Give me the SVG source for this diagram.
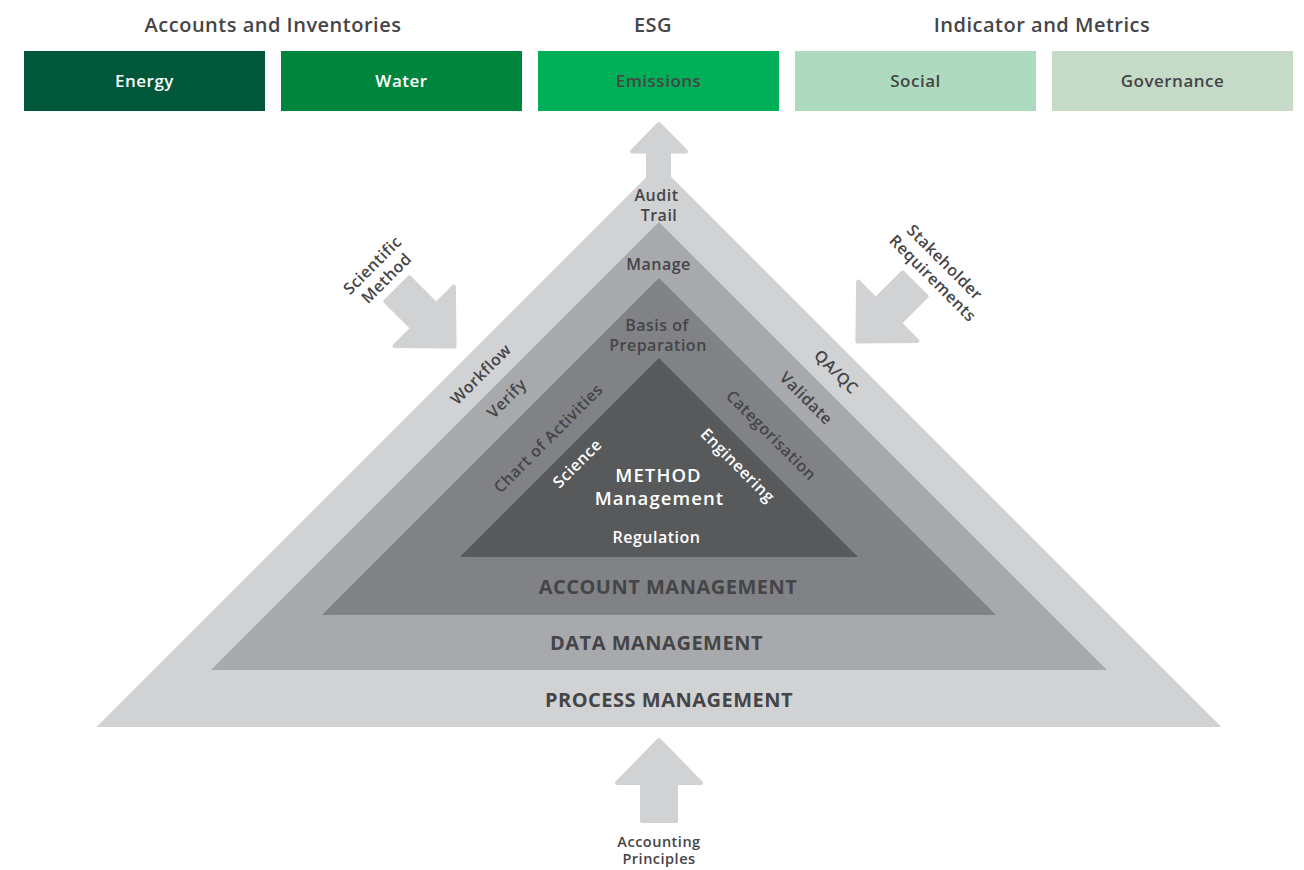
<svg xmlns="http://www.w3.org/2000/svg" width="1304" height="870" viewBox="0 0 1304 870">
<style>
text{font-family:"Open Sans","Noto Sans","Liberation Sans",sans-serif;font-weight:600;text-anchor:middle;letter-spacing:0.5px}
.d{fill:#454547}
.w{fill:#ffffff}
.h{font-size:20px}
.b{font-size:17px}
.l{font-size:16px}
.c{dominant-baseline:central}
.big{font-size:20px;font-weight:700}
.arrow{fill:#d1d2d4;stroke:#d1d2d4;stroke-width:4;stroke-linejoin:round}
</style>
<defs>
<path id="arr" d="M0,2 L42,45 L17,45 L17,83 L-17,83 L-17,45 L-42,45 Z"/>
</defs>
<rect width="1304" height="870" fill="#ffffff"/>

<g id="header-titles">
<text class="d h" x="273" y="31.5">Accounts and Inventories</text>
<text class="d h" x="653" y="31.5">ESG</text>
<text class="d h" x="1042" y="31.5">Indicator and Metrics</text>
</g>

<g id="box-energy"><rect x="24" y="51" width="241" height="60" fill="#00573a"/><text class="w b" x="144.5" y="87">Energy</text></g>
<g id="box-water"><rect x="281" y="51" width="241" height="60" fill="#00853e"/><text class="w b" x="401.5" y="87">Water</text></g>
<g id="box-emissions"><rect x="538" y="51" width="241" height="60" fill="#00b058"/><text class="d b" x="658.5" y="87">Emissions</text></g>
<g id="box-social"><rect x="795" y="51" width="241" height="60" fill="#aedabf"/><text class="d b" x="915.5" y="87">Social</text></g>
<g id="box-governance"><rect x="1052" y="51" width="241" height="60" fill="#c6dac8"/><text class="d b" x="1172.5" y="87">Governance</text></g>

<g id="connectors">
<path class="arrow" d="M659,124 L686,151.5 L669,151.5 L669,200 L648,200 L648,151.5 L632,151.5 Z"/>
<use href="#arr" class="arrow" transform="translate(456,348) rotate(135)"/>
<use href="#arr" class="arrow" transform="translate(856,343) rotate(-135)"/>
<use href="#arr" class="arrow" transform="translate(659,738)"/>
</g>

<g id="layer-process">
<polygon points="96.5,727 1221.5,727 659,164.5" fill="#d1d2d4"/>
<text class="d big" x="669" y="706.5">PROCESS MANAGEMENT</text>
<text class="d l" x="656.5" y="200.5">Audit</text>
<text class="d l" x="659" y="220.5">Trail</text>
<text class="d l c" transform="translate(480.5,374) rotate(-45)">Workflow</text>
<text class="d l c" transform="translate(836.5,371.5) rotate(45)">QA/QC</text>
</g>

<g id="layer-data">
<polygon points="211,670 1107,670 659,222" fill="#a7a9ac"/>
<text class="d big" x="656.5" y="649.5">DATA MANAGEMENT</text>
<text class="d l" x="658.5" y="269.5">Manage</text>
<text class="d l c" transform="translate(506.5,398) rotate(-45)">Verify</text>
<text class="d l c" transform="translate(806.5,398) rotate(45)">Validate</text>
</g>

<g id="layer-account">
<polygon points="322,615 996,615 659,278" fill="#808285"/>
<text class="d big" x="668" y="594">ACCOUNT MANAGEMENT</text>
<text class="d l" x="657" y="331">Basis of</text>
<text class="d l" x="658" y="351">Preparation</text>
<text class="d l c" transform="translate(548,438) rotate(-45)">Chart of Activities</text>
<text class="d l c" transform="translate(771.5,435) rotate(45)">Categorisation</text>
</g>

<g id="layer-method">
<polygon points="460,557 858,557 659,358" fill="#58595b"/>
<text class="w" style="font-size:18.5px;letter-spacing:1.1px" x="658.5" y="482">METHOD</text>
<text class="w" style="font-size:18.5px;letter-spacing:1.1px" x="659.5" y="505">Management</text>
<text class="w l" x="656.5" y="543">Regulation</text>
<text class="w l c" transform="translate(577,463) rotate(-45)">Science</text>
<text class="w l c" transform="translate(738,465) rotate(45)">Engineering</text>
</g>

<g id="label-scientific-method">
<text class="d l c" transform="translate(372,265) rotate(-45)">Scientific</text>
<text class="d l c" transform="translate(386,278) rotate(-45)">Method</text>
</g>
<g id="label-stakeholder-requirements">
<text class="d l c" transform="translate(945,262) rotate(45)">Stakeholder</text>
<text class="d l c" transform="translate(933,278) rotate(45)">Requirements</text>
</g>
<g id="label-accounting-principles">
<text class="d" style="font-size:14.5px" x="659" y="846.5">Accounting</text>
<text class="d" style="font-size:14.5px" x="659" y="863.5">Principles</text>
</g>
</svg>
